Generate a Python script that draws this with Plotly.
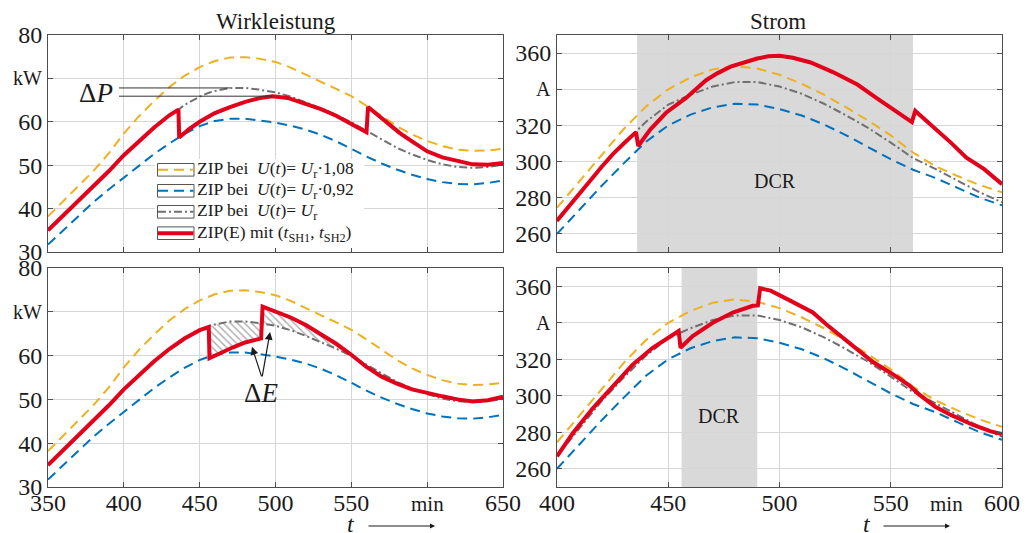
import plotly.graph_objects as go

FONT = "Liberation Serif"
W, H = 1035, 533

# ---------------- data: Wirkleistung (kW) ----------------
t_P = list(range(350, 651, 10))
P_108 = [38.2, 41.7, 45.2, 48.7, 52.7, 57.3, 61.3, 64.8, 68.0, 70.6, 72.6, 74.0, 74.8, 74.9, 74.5, 73.8,
         72.5, 70.8, 69.2, 67.6, 65.9, 63.7, 61.3, 59.0, 57.1, 55.6, 54.4, 53.6, 53.3, 53.4, 53.8]
P_092 = [31.7, 35.0, 38.3, 41.5, 44.4, 47.2, 50.0, 52.6, 55.0, 57.2, 59.0, 60.2, 60.7, 60.7, 60.3, 59.8,
         59.1, 58.2, 57.0, 55.5, 53.8, 52.0, 50.4, 49.0, 47.8, 46.8, 46.1, 45.7, 45.6, 45.9, 46.5]
t_P_r = [350, 360, 370, 380, 390, 400, 410, 420, 430, 436, 440, 450, 456, 460, 470, 480, 490, 491,
         500, 510, 520, 530, 540, 550, 560, 561, 570, 580, 590, 600, 610, 620, 630, 640, 650]
P_100 = [35.0, 38.4, 41.8, 45.1, 48.6, 52.3, 55.6, 58.7, 61.5, 62.8, 63.9, 65.8, 66.7, 67.1, 67.8, 67.8,
         67.4, 67.3, 66.8, 65.8, 64.5, 63.1, 61.6, 59.9, 57.9, 57.7, 55.9, 54.0, 52.5, 51.2, 50.2, 49.6,
         49.4, 49.6, 50.1]
# ZIP(E), top (t_SH1=436, t_SH2=561)
t_PE1 = [350, 360, 370, 380, 390, 400, 410, 420, 430, 436, 436.5, 443, 450, 460, 470, 480, 490, 498,
         508, 520, 530, 540, 550, 560, 561, 571, 582, 590, 600, 610, 620, 630, 640, 650]
P_E1 = [35.0, 38.4, 41.8, 45.1, 48.6, 52.3, 55.6, 58.7, 61.5, 62.8, 56.4, 58.3, 60.0, 62.0, 63.4, 64.6,
        65.5, 65.9, 65.5, 64.2, 62.9, 61.4, 59.6, 57.6, 63.4, 60.5, 57.4, 55.5, 53.2, 51.8, 50.9, 50.2,
        50.1, 50.5]
# ZIP(E), bottom (t_SH1=456, t_SH2=491)
t_PE2 = [350, 360, 370, 380, 390, 400, 410, 420, 430, 440, 450, 456, 456.5, 465, 472, 480, 485, 490.5,
         491.5, 500, 510, 520, 530, 540, 550, 560, 570, 580, 590, 600, 610, 620, 630, 640, 650]
P_E2 = [35.0, 38.4, 41.8, 45.1, 48.6, 52.3, 55.6, 58.7, 61.5, 63.9, 65.8, 66.5, 59.4, 60.9, 61.9, 63.0,
        63.5, 63.9, 71.2, 70.1, 68.7, 67.0, 64.9, 62.7, 60.2, 57.4, 55.2, 53.6, 52.3, 51.4, 50.7, 50.0,
        49.5, 49.8, 50.6]

# ---------------- data: Strom (A) ----------------
t_I = list(range(400, 601, 10))
I_108 = [274.5, 289, 303.5, 318, 330.5, 340, 346.5, 351, 352.8, 351.5, 348, 343, 337, 330, 322.5,
         314.5, 305, 297.5, 292, 287, 283]
I_092 = [260, 273.5, 286.5, 299, 311, 320, 326, 330, 332, 331.5, 329, 325.5, 320.5, 314.5, 308,
         301.3, 295.5, 291, 285.5, 280, 275.8]
I_100 = [267, 282, 297, 310, 322, 331.5, 337, 341.5, 344, 344, 341.5, 337.5, 332, 325.5, 318.5,
         310.5, 302, 296, 289.5, 283, 277.5]
t_IE1 = [400, 405, 410, 415, 420, 425, 430, 435.5, 436.5, 442, 449, 458, 467, 472, 478, 485, 490, 495,
         500, 506, 514, 524, 535, 544, 551, 559.5, 561, 568, 577, 584, 592, 600]
I_E1 = [267.3, 274.5, 282, 289.5, 297, 304, 310, 316.3, 308.6, 317.8, 327, 335.2, 345, 348.8, 352.5,
        355.4, 357.0, 358.2, 358.5, 357.4, 354.8, 349.5, 342.6, 334.8, 328.8, 321.8, 328, 320.6, 310.5,
        302.2, 295.8, 287.5]
t_IE2 = [400, 407, 416, 425, 434, 443, 449, 454.7, 455.5, 461, 470, 479, 488, 490.3, 491.3, 496, 505,
         515, 521, 532, 542, 550, 558, 563, 570, 577, 587, 595, 600]
I_E2 = [266.8, 279.3, 293, 305, 317, 326.3, 330.9, 335.5, 326.3, 332.7, 340, 345.6, 349.3, 349.5,
        358.9, 357.6, 352, 345.6, 339.2, 328.1, 318.5, 312.5, 306, 300.5, 294, 289.5, 284, 280.5, 279]

DCR_top = [436, 560]
DCR_bot = [456, 490]

legend_names = [
    "ZIP bei&nbsp; <i>U</i>(<i>t</i>)=&nbsp;<i>U</i><sub>r</sub>·1,08",
    "ZIP bei&nbsp; <i>U</i>(<i>t</i>)=&nbsp;<i>U</i><sub>r</sub>·0,92",
    "ZIP bei&nbsp; <i>U</i>(<i>t</i>)=&nbsp;<i>U</i><sub>r</sub>",
    "ZIP(E) mit (<i>t</i><sub>SH1</sub>, <i>t</i><sub>SH2</sub>)",
]

# ---------------- styles ----------------
C_Y, C_B, C_G, C_R = "#EDB120", "#0072BD", "#707070", "#E2001A"
ST_Y = dict(color=C_Y, width=2, dash="10px,6px")
ST_B = dict(color=C_B, width=2, dash="10px,6px")
ST_G = dict(color=C_G, width=2, dash="8px,3px,2px,3px")
ST_R = dict(color=C_R, width=4)
TXT = "#1a1a1a"


def px_x(p):
    return p / W


def px_y(p):
    return 1 - p / H


fig = go.Figure()


def line(x, y, st, ax):
    fig.add_trace(go.Scatter(x=x, y=y, mode="lines", line=st, xaxis="x" + ax, yaxis="y" + ax,
                             showlegend=False, hoverinfo="skip"))


# hatched Delta E areas (bottom left)
def hatch(t0, t1, tr0, tr1):
    rx = [t for t in t_PE2 if tr0 <= t <= tr1]
    ry = [v for t, v in zip(t_PE2, P_E2) if tr0 <= t <= tr1]
    gx = [t for t in t_P_r if t0 <= t <= t1][::-1]
    gy = [v for t, v in zip(t_P_r, P_100) if t0 <= t <= t1][::-1]
    fig.add_trace(go.Scatter(x=rx + gx, y=ry + gy, mode="none", fill="toself", fillcolor="white",
                             fillpattern=dict(shape="\\", fgcolor="#666666", bgcolor="white", size=5,
                                              solidity=0.3),
                             xaxis="x3", yaxis="y3", showlegend=False, hoverinfo="skip"))


hatch(456, 491, 456.5, 490.5)
hatch(491, 550, 491.5, 550)

for ax, tr, pr in [("", t_PE1, P_E1), ("3", t_PE2, P_E2)]:
    line(t_P, P_108, ST_Y, ax)
    line(t_P, P_092, ST_B, ax)
    line(t_P_r, P_100, ST_G, ax)
    line(tr, pr, ST_R, ax)

for ax, tr, ir in [("2", t_IE1, I_E1), ("4", t_IE2, I_E2)]:
    line(t_I, I_108, ST_Y, ax)
    line(t_I, I_092, ST_B, ax)
    line(t_I, I_100, ST_G, ax)
    line(tr, ir, ST_R, ax)

# ---------------- axes ----------------
xL = [px_x(48), px_x(503)]
xR = [px_x(557), px_x(1002)]
yT = [px_y(252), px_y(35)]
yB = [px_y(487), px_y(268)]

base = dict(showline=True, linecolor="#4d4d4d", linewidth=1, mirror="ticks", ticks="inside",
            ticklen=5, tickcolor="#4d4d4d", showgrid=True, gridcolor="#d6d6d6", gridwidth=1,
            zeroline=False, automargin=False,
            tickfont=dict(family=FONT, size=24, color=TXT))

xl_vals = list(range(350, 651, 50))
xl_text = ["350", "400", "450", "500", "550", "", "650"]
xr_vals = list(range(400, 601, 50))
yl_vals = list(range(30, 81, 10))
yl_text = ["30", "40", "50", "60", "", "80"]
yr_vals = list(range(260, 361, 20))
yr_text = ["260", "280", "300", "320", "", "360"]

fig.update_layout(
    xaxis=dict(base, domain=xL, range=[350, 650], tickvals=xl_vals, showticklabels=False, anchor="y"),
    yaxis=dict(base, domain=yT, range=[30, 80], tickvals=yl_vals, ticktext=yl_text, anchor="x"),
    xaxis2=dict(base, domain=xR, range=[400, 600], tickvals=xr_vals, showticklabels=False, anchor="y2"),
    yaxis2=dict(base, domain=yT, range=[250, 370], tickvals=yr_vals, ticktext=yr_text, anchor="x2"),
    xaxis3=dict(base, domain=xL, range=[350, 650], tickvals=xl_vals, ticktext=xl_text, anchor="y3",
                ticklabelstandoff=-6),
    yaxis3=dict(base, domain=yB, range=[30, 80], tickvals=yl_vals, ticktext=yl_text, anchor="x3"),
    xaxis4=dict(base, domain=xR, range=[400, 600], tickvals=xr_vals, anchor="y4",
                ticklabelstandoff=-6),
    yaxis4=dict(base, domain=yB, range=[250, 370], tickvals=yr_vals, ticktext=yr_text, anchor="x4"),
    width=W, height=H, margin=dict(l=0, r=0, t=0, b=0, autoexpand=False),
    paper_bgcolor="white", plot_bgcolor="white",
    font=dict(family=FONT, color=TXT),
)

shapes = []
for xa, d in [("x2", DCR_top), ("x4", DCR_bot)]:
    shapes.append(dict(type="rect", xref=xa, yref=xa.replace("x", "y") + " domain", x0=d[0], x1=d[1],
                       y0=0, y1=1, fillcolor="#d9d9d9", line=dict(width=0), layer="below"))

# Delta P reference lines
ig = max(range(len(P_100)), key=lambda i: P_100[i])
ir_ = max(range(len(P_E1)), key=lambda i: P_E1[i] if 440 < t_PE1[i] < 550 else -1)
for tx, vy in [(t_P_r[ig], P_100[ig]), (t_PE1[ir_], P_E1[ir_])]:
    shapes.append(dict(type="line", xref="x", yref="y", x0=396.8, x1=tx, y0=vy, y1=vy,
                       line=dict(color="#333333", width=1), layer="above"))

# manual legend
shapes.append(dict(type="rect", xref="paper", yref="paper", x0=px_x(155), x1=px_x(364),
                   y0=px_y(248), y1=px_y(159), fillcolor="white", line=dict(width=0), layer="above"))
rows = [169.8, 190.8, 211.8, 233.2]
leg_styles = [ST_Y, ST_B, ST_G, ST_R]
annotations = []
for yc, st, name in zip(rows, leg_styles, legend_names):
    shapes.append(dict(type="rect", xref="paper", yref="paper", x0=px_x(157.5), x1=px_x(194),
                       y0=px_y(yc + 6.3), y1=px_y(yc - 6.3), fillcolor="white",
                       line=dict(color="#555555", width=1), layer="above"))
    shapes.append(dict(type="line", xref="paper", yref="paper", x0=px_x(158), x1=px_x(193.5),
                       y0=px_y(yc), y1=px_y(yc), line=st, layer="above"))
    annotations.append(dict(xref="paper", yref="paper", x=px_x(195), y=px_y(yc), text=name,
                            showarrow=False, xanchor="left", yanchor="middle",
                            font=dict(family=FONT, size=17.5, color=TXT)))


def label(x, y, text, size, xref="paper", yref="paper", **kw):
    d = dict(xref=xref, yref=yref, x=x, y=y, text=text, showarrow=False, xanchor="center",
             yanchor="middle", font=dict(family=FONT, size=size, color=TXT))
    d.update(kw)
    annotations.append(d)


# titles
label(px_x(276), px_y(21), "Wirkleistung", 23)
label(px_x(778), px_y(21), "Strom", 23)

# units
for ya, xa, v, txt in [("y", "x", 70, "kW"), ("y3", "x3", 70, "kW"), ("y2", "x2", 340, "A"),
                       ("y4", "x4", 340, "A")]:
    label(0, v, txt, 20, xref=xa + " domain", yref=ya, xanchor="right", xshift=-4)
label(600, px_y(504), "min", 21, xref="x3")
label(575, px_y(504), "min", 21, xref="x4")

# t axis labels with arrows
for tx, a0, a1 in [(351, 367, 435), (867, 882, 950)]:
    label(px_x(tx), px_y(524), "<i>t</i>", 24)
    annotations.append(dict(xref="paper", yref="paper", x=px_x(a1), y=px_y(526), text="",
                            showarrow=True, ax=-(a1 - a0), ay=0, axref="pixel", ayref="pixel",
                            arrowhead=2, arrowsize=1, arrowwidth=1, arrowcolor=TXT))

# DCR labels
label(498, 289, "DCR", 20, xref="x2", yref="y2")
label(473, 289, "DCR", 20, xref="x4", yref="y4")

# Delta P / Delta E
label(px_x(96), px_y(93), "Δ<i>P</i>", 27)
label(px_x(261), px_y(393), "Δ<i>E</i>", 27)
for tipx, tipy in [(484.5, 62.0), (496.4, 65.4)]:
    annotations.append(dict(xref="x3", yref="y3", x=tipx, y=tipy, ax=491.1, ay=54.9,
                            axref="x3", ayref="y3", text="", showarrow=True, arrowhead=2,
                            arrowsize=1.3, arrowwidth=1.2, arrowcolor=TXT))

fig.update_layout(shapes=shapes, annotations=annotations)
fig.write_html("out.html", config={"displayModeBar": False},
               post_script="document.body.style.margin='0px';document.body.style.overflow='hidden';")
